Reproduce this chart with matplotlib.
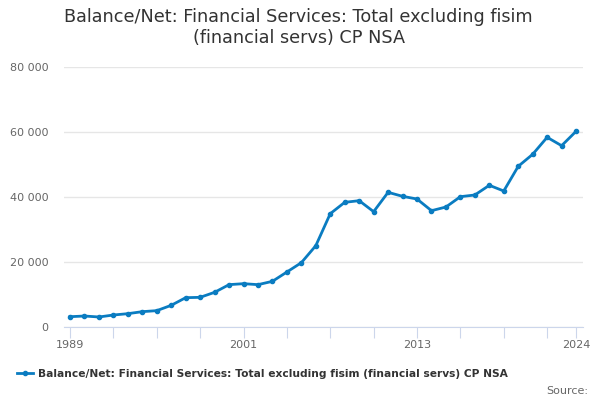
import matplotlib
matplotlib.use('Agg')
import matplotlib.pyplot as plt
from matplotlib.ticker import FuncFormatter

# datos
years = list(range(1989, 2025))
values = [3170, 3380, 3080, 3690, 4100, 4720, 5030, 6670, 9020, 9130,
          10670, 13030, 13330, 13030, 14050, 16920, 19790, 25020, 34870, 38360,
          38870, 35490, 41440, 40210, 39380, 35790, 36920, 40100, 40620, 43600,
          41850, 49440, 53140, 58370, 55790, 60210]
tick_years = [1989, 1992, 1995, 1998, 2001, 2004, 2007, 2010, 2013, 2016, 2019, 2022, 2024]
label_years = [1989, 2001, 2013, 2024]
y_ticks = [0, 20000, 40000, 60000, 80000]
serie = 'Balance/Net: Financial Services: Total excluding fisim (financial servs) CP NSA'

fig = plt.figure(figsize=(6, 4), dpi=100)
ax = fig.add_axes([64 / 600, 1 - 327 / 400, (583 - 64) / 600, 260 / 400])

ax.plot(years, values, color='#0a7cc1', linewidth=2, marker='o', markersize=3, label=serie)

ax.set_xlim(1988.585, 2024.48)
ax.set_ylim(0, 80000)
ax.set_yticks(y_ticks)
ax.yaxis.set_major_formatter(FuncFormatter(lambda v, p: f'{int(v):,}'.replace(',', ' ')))
ax.set_xticks(tick_years)
ax.set_xticklabels([str(y) if y in label_years else '' for y in tick_years])

ax.grid(axis='y', color='#e6e6e6', linewidth=1)
ax.set_axisbelow(True)
for s in ['top', 'right', 'left']:
    ax.spines[s].set_visible(False)
ax.spines['bottom'].set_color('#ccd6eb')
ax.tick_params(axis='y', length=0, labelsize=8, labelcolor='#666666', pad=11)
ax.tick_params(axis='x', length=8, color='#ccd6eb', labelsize=8, labelcolor='#666666', pad=1)

fig.text(0.498, 0.931, 'Balance/Net: Financial Services: Total excluding fisim\n(financial servs) CP NSA',
         ha='center', va='center', fontsize=12.7, color='#333333', linespacing=1.2)

fig.legend(loc='center', bbox_to_anchor=(0.437, 0.065), frameon=False,
           handlelength=1.5, handletextpad=0.45,
           prop={'weight': 'bold', 'size': 7.7})
for t in fig.legends[0].get_texts():
    t.set_color('#333333')

fig.text(0.98, 0.022, 'Source:', ha='right', va='center', fontsize=8, color='#666666')

fig.savefig('out.png', dpi=100)
